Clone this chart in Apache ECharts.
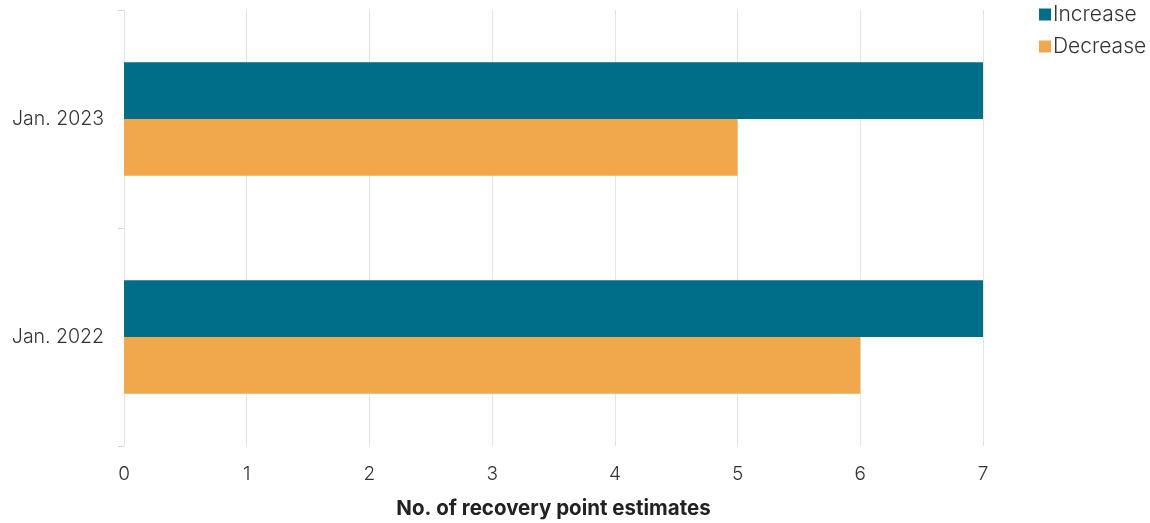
<!DOCTYPE html>
<html>
<head>
<meta charset="utf-8">
<script src="https://cdn.jsdelivr.net/npm/echarts@6/dist/echarts.min.js"></script>
<style>
  html, body { margin: 0; padding: 0; background: #fff; }
  #chart { width: 1150px; height: 523px; }
</style>
</head>
<body>
<div id="chart"></div>
<script>
// Recovery point estimate revisions, by survey date
const periods = ['Jan. 2022', 'Jan. 2023'];
const increaseCounts = [7, 7];
const decreaseCounts = [6, 5];
const xTicks = [0, 1, 2, 3, 4, 5, 6, 7];

const FONT = 'Inter, Roboto, "Liberation Sans", sans-serif';
const chart = echarts.init(document.getElementById('chart'));

chart.setOption({
  animation: false,
  textStyle: { fontFamily: FONT },
  legend: {
    orient: 'vertical',
    left: 1034,
    top: -2,
    itemWidth: 12,
    itemHeight: 12,
    itemGap: 9,
    icon: 'rect',
    data: ['Increase', 'Decrease'],
    textStyle: { fontSize: 21, lineHeight: 23, color: '#333', fontWeight: 300, fontFamily: FONT, padding: [0, 0, 0, -3] }
  },
  grid: { left: 124, right: 167, top: 10, bottom: 77, containLabel: false, outerBoundsMode: 'none' },
  xAxis: {
    type: 'value',
    min: xTicks[0],
    max: xTicks[xTicks.length - 1],
    interval: 1,
    name: 'No. of recovery point estimates',
    nameLocation: 'middle',
    nameGap: 52,
    nameTextStyle: { fontSize: 20.5, fontWeight: 'bold', color: '#222', fontFamily: FONT },
    axisLine: { show: false },
    axisTick: { show: false },
    axisLabel: { fontSize: 19, color: '#333', fontWeight: 300, margin: 19 },
    splitLine: { show: true, lineStyle: { color: '#e3e3e3', width: 1 } }
  },
  yAxis: {
    type: 'category',
    data: periods,
    axisLine: { show: true, lineStyle: { color: '#e3e3e3', width: 1 } },
    axisTick: { show: true, length: 6, lineStyle: { color: '#d6d6d6' } },
    axisLabel: { fontSize: 19.5, color: '#333', fontWeight: 300, margin: 20 }
  },
  series: [
    {
      name: 'Increase',
      type: 'bar',
      data: increaseCounts,
      itemStyle: { color: '#006e88' },
      barGap: '0%',
      barCategoryGap: '48%'
    },
    {
      name: 'Decrease',
      type: 'bar',
      data: decreaseCounts,
      itemStyle: { color: '#f0a84b' },
      barGap: '0%',
      barCategoryGap: '48%'
    }
  ]
});
</script>
</body>
</html>
